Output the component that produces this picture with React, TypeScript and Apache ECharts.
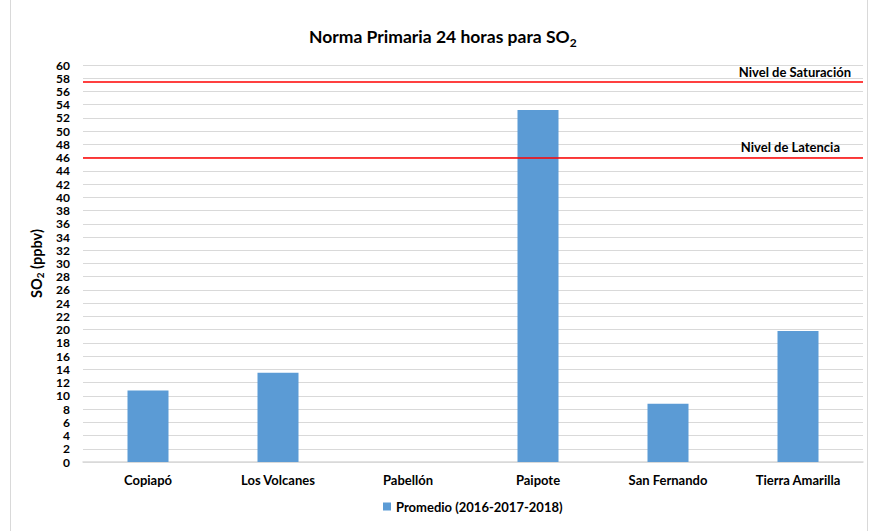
import React, { useEffect, useRef } from "react";
import * as echarts from "echarts";

const categories = ["Copiapó", "Los Volcanes", "Pabellón", "Paipote", "San Fernando", "Tierra Amarilla"];
const promedio = [10.8, 13.5, null, 53.2, 8.8, 19.8];
const seriesName = "Promedio (2016-2017-2018)";
const saturacion = 57.4;
const latencia = 46;

const FONT = "Lato, 'Open Sans', sans-serif";

export default function App() {
  const ref = useRef<HTMLDivElement>(null);
  useEffect(() => {
    const chart = echarts.init(ref.current!, null, { renderer: "svg" });
    chart.setOption({
      animation: false,
      backgroundColor: "#ffffff",
      textStyle: { fontFamily: FONT },
      graphic: [
        {
          type: "rect",
          shape: { x: 10.5, y: -2, width: 857, height: 540 },
          style: { fill: "none", stroke: "#D9D9D9", lineWidth: 1 },
          silent: true,
        },
      ],
      title: {
        text: "{t|Norma Primaria 24 horas para SO}{s|2}",
        left: 304,
        top: 20,
        textStyle: {
          rich: {
            t: { fontFamily: FONT, fontWeight: "bold", fontSize: 17.5, color: "#000" },
            s: { fontFamily: FONT, fontWeight: "bold", fontSize: 12, color: "#000", padding: [11, 0, 0, 0] },
          },
        },
      },
      legend: {
        bottom: 13,
        left: 378,
        itemWidth: 8,
        itemHeight: 8,
        itemGap: 4,
        icon: "rect",
        textStyle: { fontFamily: FONT, fontWeight: "bold", fontSize: 13, color: "#000" },
        data: [seriesName],
      },
      grid: { left: 83, right: 7, top: 65, bottom: 69, containLabel: false },
      xAxis: {
        type: "category",
        data: categories,
        axisLine: { lineStyle: { color: "#D9D9D9", width: 1.5 } },
        axisTick: { show: false },
        axisLabel: {
          fontFamily: FONT,
          fontWeight: "bold",
          fontSize: 13,
          color: "#000",
          margin: 11,
          interval: 0,
        },
      },
      yAxis: {
        type: "value",
        min: 0,
        max: 60,
        interval: 2,
        name: "{t|SO}{s|2}{t| (ppbv)}",
        nameLocation: "middle",
        nameGap: 33,
        nameRotate: 90,
        nameTextStyle: {
          rich: {
            t: { fontFamily: FONT, fontWeight: "bold", fontSize: 14.5, color: "#000" },
            s: { fontFamily: FONT, fontWeight: "bold", fontSize: 10, color: "#000", padding: [8, 0, 0, 0] },
          },
        },
        axisLine: { show: false },
        axisTick: { show: false },
        axisLabel: {
          fontFamily: FONT,
          fontWeight: "bold",
          fontSize: 12,
          lineHeight: 11,
          color: "#000",
          margin: 13,
        },
        splitLine: { lineStyle: { color: "#D9D9D9", width: 1 } },
      },
      series: [
        {
          name: seriesName,
          type: "bar",
          data: promedio,
          barWidth: 41,
          itemStyle: { color: "#5B9BD5" },
          markLine: {
            silent: true,
            symbol: "none",
            lineStyle: { color: "#FF0000", width: 1.5, type: "solid" },
            label: {
              position: "insideEndTop",
              fontFamily: FONT,
              fontWeight: "bold",
              fontSize: 13,
              color: "#000",
            },
            data: [
              { yAxis: saturacion, label: { formatter: "Nivel de Saturación", distance: [12, 4] } },
              { yAxis: latencia, label: { formatter: "Nivel de Latencia", distance: [23, 4] } },
            ],
          },
        },
      ],
    });
    return () => chart.dispose();
  }, []);
  return (
    <div
      ref={ref}
      style={{ position: "fixed", left: 0, top: 0, width: 870, height: 531 }}
    />
  );
}
